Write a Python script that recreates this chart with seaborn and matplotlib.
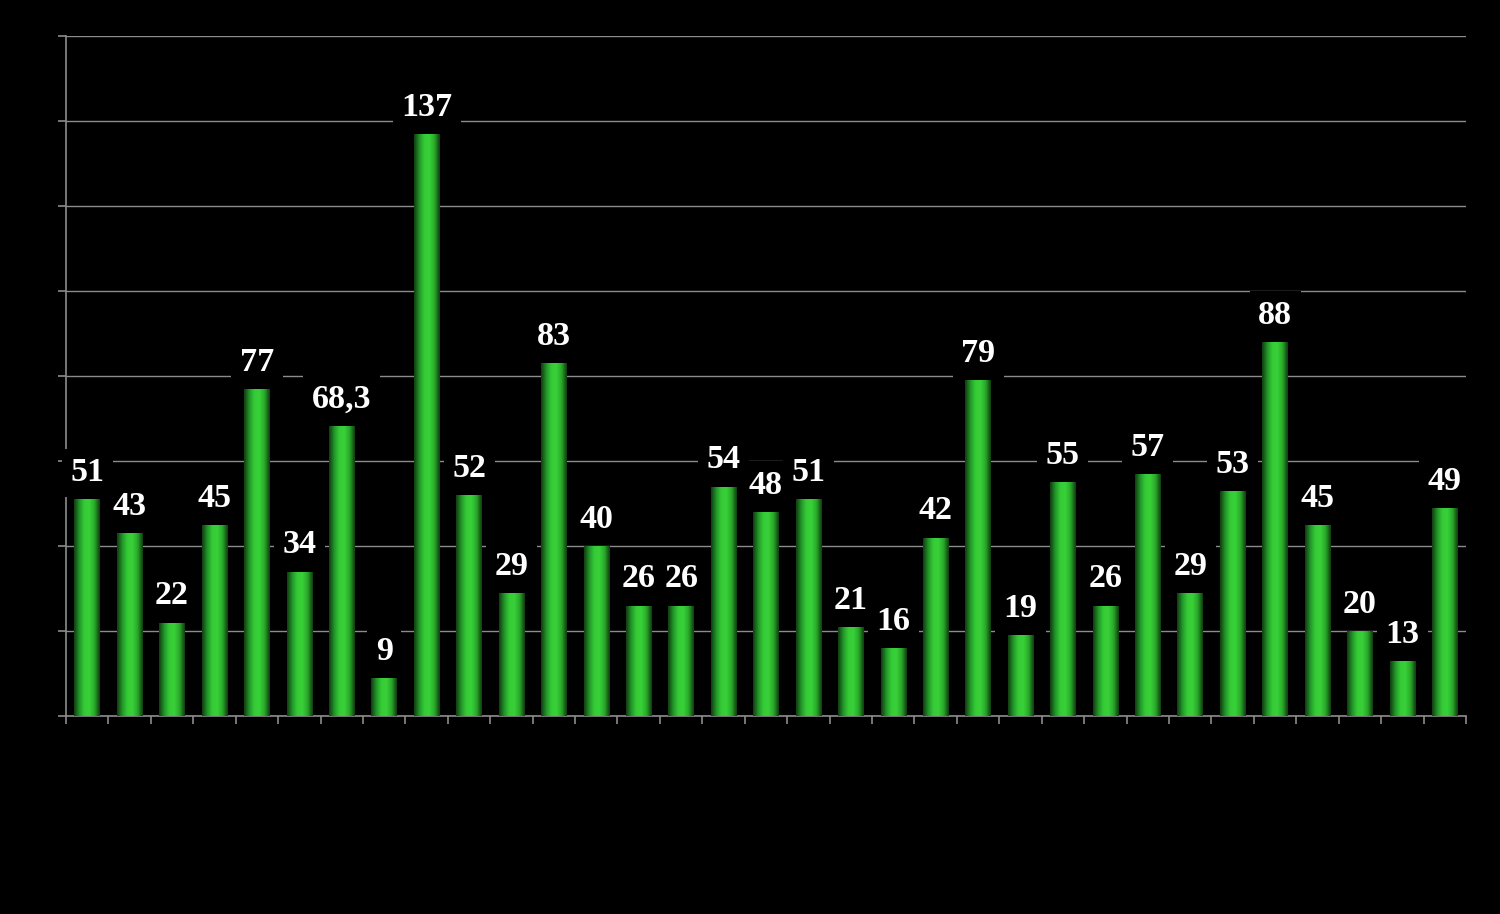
import numpy as np
import pandas as pd
import matplotlib
matplotlib.use("Agg")
import matplotlib.pyplot as plt
import seaborn as sns
from matplotlib.colors import LinearSegmentedColormap

categories = [str(i) for i in range(1, 34)]
values = [51, 43, 22, 45, 77, 34, 68.3, 9, 137, 52, 29, 83, 40, 26, 26, 54, 48,
          51, 21, 16, 42, 79, 19, 55, 26, 57, 29, 53, 88, 45, 20, 13, 49]
labels = ["51", "43", "22", "45", "77", "34", "68,3", "9", "137", "52", "29", "83",
          "40", "26", "26", "54", "48", "51", "21", "16", "42", "79", "19", "55",
          "26", "57", "29", "53", "88", "45", "20", "13", "49"]
y_ticks = [0, 20, 40, 60, 80, 100, 120, 140, 160]

sns.set_theme(style="dark")
plt.rcParams['font.family'] = ['Liberation Serif', 'DejaVu Serif']

fig = plt.figure(figsize=(15, 9.14), dpi=100, facecolor="black")
ax = fig.add_axes([0.044, 0.2166, 0.9333, 0.744])
ax.set_facecolor("black")

df = pd.DataFrame({"cat": categories, "val": values})
sns.barplot(data=df, x="cat", y="val", color="#33cc33", width=0.6, ax=ax,
            saturation=1, zorder=2, linewidth=0, edgecolor="none")

# horizontal gradient for bars
grad_cmap = LinearSegmentedColormap.from_list(
    "g", ["#0f3d0f", "#22962a", "#36cc36", "#38d038", "#2aa82a", "#0f3d0f"])
grad = np.linspace(0, 1, 64).reshape(1, -1)
for p in ax.patches:
    x0, y0 = p.get_x(), p.get_y()
    w, h = p.get_width(), p.get_height()
    im = ax.imshow(grad, cmap=grad_cmap, aspect="auto",
                   extent=[x0, x0 + w, y0, y0 + h], zorder=3,
                   interpolation="bicubic")
    im.set_clip_path(p)

for i, (v, lab) in enumerate(zip(values, labels)):
    ax.annotate(lab, xy=(i, v), xytext=(0, 8), textcoords="offset points",
                ha="center", va="bottom", color="white", fontsize=24.5,
                fontweight="bold", zorder=5,
                bbox=dict(boxstyle="square,pad=0.25", fc="black", ec="none"))

ax.set_xlim(-0.5, len(values) - 0.5)
ax.set_ylim(0, 160)
ax.set_yticks(y_ticks)
ax.set_yticklabels([])
ax.set_xticks(np.arange(-0.5, len(values), 1.0))
ax.set_xticklabels([])
ax.set_xlabel("")
ax.set_ylabel("")
ax.grid(axis="y", color="#8c8c8c", linewidth=1.0, zorder=0)
ax.grid(axis="x", visible=False)
ax.set_axisbelow(True)
for s in ["top", "right"]:
    ax.spines[s].set_visible(False)
for s in ["left", "bottom"]:
    ax.spines[s].set_visible(True)
    ax.spines[s].set_color("#8c8c8c")
    ax.spines[s].set_linewidth(1.2)
ax.tick_params(axis="both", direction="out", length=6, width=1.2,
               color="#8c8c8c", left=True, bottom=True)

fig.savefig("out.png", dpi=100, facecolor="black")
